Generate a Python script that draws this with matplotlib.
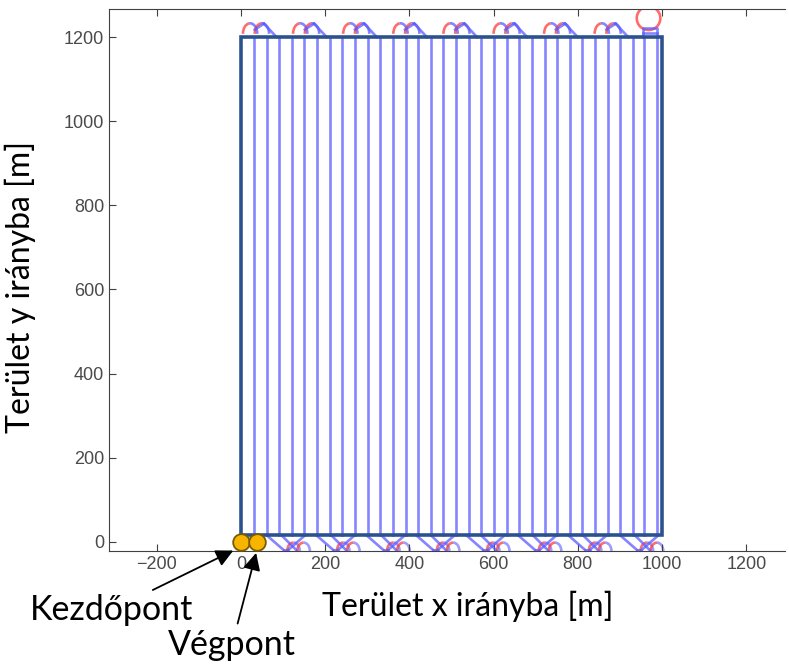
import numpy as np
import matplotlib.pyplot as plt
from matplotlib.patches import Rectangle, Circle, Arc

# track (swath) x positions [m]
track_x = [31, 61, 91, 121, 151, 181, 211, 241, 271, 301, 331,
           361, 391, 421, 451, 481, 511, 541, 571, 601, 631, 661,
           691, 721, 751, 781, 811, 841, 871, 901, 931, 958, 989]
track_y0 = 15
track_y1 = 1200

# turning groups: left x of headland turns on top, centre x at bottom
top_groups = [5, 124, 243, 362, 481, 600, 720, 840]
bottom_groups = [107, 225, 344, 462, 581, 704, 823, 946]

# last U turn (top right) and start / end points
u_turn = (955, 989, 1221)
u_circle = (968, 1245, 28)
start_pt = (0, 0)
end_pt = (38, 0)

W, H = 789, 665
fig = plt.figure(figsize=(W / 100, H / 100), dpi=100)
ax = fig.add_axes([109 / W, (H - 551) / H, (785 - 109) / W, (551 - 9) / H])

blue = '#5c5cff'
red = '#ff3b3b'
lw = 1.9
al = 0.75

# tracks
for x in track_x:
    ax.plot([x, x], [track_y0, track_y1], color=blue, lw=lw, alpha=al)

# top turns
for g in top_groups:
    for cx in (g + 17, g + 45):
        ax.add_patch(Arc((cx, 1208), 34, 50, theta1=0, theta2=95, color=blue, lw=lw, alpha=al))
        ax.add_patch(Arc((cx, 1208), 34, 50, theta1=95, theta2=180, color=red, lw=lw, alpha=al))
    ax.plot([g + 50, g + 80], [1232, 1200], color=blue, lw=lw, alpha=al)
    ax.plot([g + 28, g + 50], [1218, 1232], color=blue, lw=lw, alpha=al)

# bottom turns
for c in bottom_groups:
    ax.plot([c - 45, c - 5], [track_y0, -20], color=blue, lw=lw, alpha=al)
    ax.plot([c - 10, c + 25], [track_y0, -20], color=blue, lw=lw, alpha=al)
    ax.plot([c + 45, c + 5], [track_y0, -20], color=blue, lw=lw, alpha=al)
    ax.plot([c - 5, c + 5], [-20, -20], color=blue, lw=lw, alpha=al)
    for cx in (c + 18, c + 42):
        ax.add_patch(Arc((cx, -22), 30, 40, theta1=90, theta2=180, color=red, lw=lw, alpha=al))
        ax.add_patch(Arc((cx, -22), 30, 40, theta1=0, theta2=90, color=blue, lw=lw, alpha=0.6))

# last turn
ax.plot([u_turn[0], u_turn[0], u_turn[1], u_turn[1]], [1200, u_turn[2], u_turn[2], 1200],
        color=blue, lw=lw, alpha=al)
ax.plot([u_turn[0], u_turn[1]], [1210, 1210], color=blue, lw=lw, alpha=al)
ax.add_patch(Circle(u_circle[:2], u_circle[2], fill=False, color=red, lw=lw, alpha=al))

# field border
ax.add_patch(Rectangle((0, track_y0), 1000, track_y1 - track_y0, fill=False,
                       edgecolor='#2c528e', lw=2.6, zorder=5))

# start / end points
for p in (start_pt, end_pt):
    ax.plot(p[0], p[1], 'o', ms=12, mfc='#f7b500', mec='#7a5c00', mew=1.3,
            zorder=6, clip_on=False)

ax.set_xlim(-313, 1292)
ax.set_ylim(-22, 1267)
ax.set_xticks([-200, 0, 200, 400, 600, 800, 1000, 1200])
ax.set_yticks([0, 200, 400, 600, 800, 1000, 1200])
ax.tick_params(direction='in', top=True, right=False, labelsize=13,
               labelcolor='#4a4a4a', color='#404040', length=5)
for lab in ax.get_xticklabels() + ax.get_yticklabels():
    lab.set_family('Liberation Sans')
for s in ('left', 'bottom', 'top'):
    ax.spines[s].set_color('#404040')
ax.spines['right'].set_visible(False)

ax.set_xlabel('Terület x irányba [m]', fontsize=23, family='Lato')
ax.set_ylabel('Terület y irányba [m]', fontsize=23, family='Lato')
ax.xaxis.set_label_coords(0.53, -0.074)
ax.yaxis.set_label_coords(-0.108, 0.487)

# annotations
arrow = dict(arrowstyle='-|>', color='black', lw=1.3, mutation_scale=26)
ax.annotate('Kezdőpont', xy=(-12, -18), xytext=(112 / W, 1 - 610 / H),
            textcoords='figure fraction', ha='center', va='center',
            fontsize=24.5, family='Lato', arrowprops=arrow, annotation_clip=False)
ax.annotate('Végpont', xy=(38, -20), xytext=(232 / W, 1 - 645 / H),
            textcoords='figure fraction', ha='center', va='center',
            fontsize=24.5, family='Lato', arrowprops=arrow, annotation_clip=False)

fig.savefig('out.png', dpi=100)
